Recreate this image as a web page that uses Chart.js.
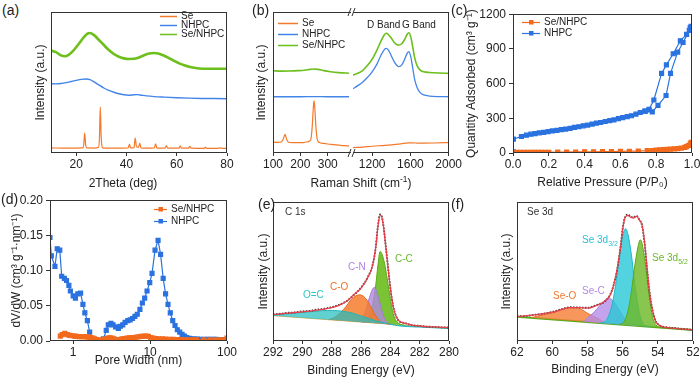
<!DOCTYPE html>
<html><head><meta charset="utf-8">
<script src="https://cdn.jsdelivr.net/npm/chart.js@4.4.1/dist/chart.umd.min.js"></script>
<style>
html,body{margin:0;padding:0;background:#fff;}
#stage{position:relative;width:700px;height:378px;overflow:hidden;background:#fff;font-family:"Liberation Sans",Arial,sans-serif;}
#stage canvas{position:absolute;}
.t{position:absolute;white-space:nowrap;line-height:1;color:#222;z-index:5;}
.pl{font-size:14px;}
.an{font-size:10px;}
.ti{font-size:12px;}
sub,sup{font-size:70%;line-height:0;}
</style></head><body>
<div id="stage">
  <div class="t pl" style="left:2px;top:3px">(a)</div>
  <div class="t pl" style="left:252px;top:3px">(b)</div>
  <div class="t pl" style="left:451px;top:3px">(c)</div>
  <div class="t pl" style="left:1px;top:192px">(d)</div>
  <div class="t pl" style="left:258px;top:197px">(e)</div>
  <div class="t pl" style="left:451px;top:197px">(f)</div>
  <div class="t ti" style="left:123px;top:177px;transform:translateX(-50%)">2Theta (deg)</div>
  <div class="t an" style="left:367px;top:20px">D Band</div>
  <div class="t an" style="left:402px;top:20px">G Band</div>
  <div class="t ti" style="left:361px;top:177px;transform:translateX(-50%)">Raman Shift (cm<sup>-1</sup>)</div>
  <div class="t an" style="left:285px;top:207px;color:#333">C 1s</div>
  <div class="t an" style="left:395px;top:254px;color:#6cb82a">C-C</div>
  <div class="t an" style="left:348px;top:262px;color:#b07fe0">C-N</div>
  <div class="t an" style="left:330px;top:282px;color:#f07020">C-O</div>
  <div class="t an" style="left:303px;top:290px;color:#2cc6c8">O=C</div>
  <div class="t an" style="left:527px;top:207px;color:#333">Se 3d</div>
  <div class="t an" style="left:582px;top:235px;color:#28c0d0">Se 3d<sub>3/2</sub></div>
  <div class="t an" style="left:652px;top:253px;color:#6cb82a">Se 3d<sub>5/2</sub></div>
  <div class="t an" style="left:582px;top:286px;color:#b48ae6">Se-C</div>
  <div class="t an" style="left:553px;top:291px;color:#f07a30">Se-O</div>
</div>
<script>
// ---------------- DATA ----------------
// (a) XRD
const aTicksX = [20, 40, 60, 80];
const xrdSe = [[10,3.6],[15,3.5],[20,3.5],[22.6,3.6],[23.0,5.5],[23.4,14.2],[23.8,5.5],[24.3,3.6],[27,3.5],[28.9,4],[29.3,12],[29.6,32.6],[29.95,12],[30.4,4],[31,3.5],[35,3.4],[40.7,3.6],[41.2,6.2],[41.7,3.6],[43.0,3.8],[43.5,10.6],[44.0,4.5],[44.8,4],[45.3,7],[45.8,3.6],[48,3.4],[51.1,3.6],[51.6,6.5],[52.1,3.5],[55.4,3.5],[55.9,5.3],[56.4,3.4],[60.9,3.4],[61.4,5],[61.9,3.4],[64.7,3.4],[65.2,4.7],[65.7,3.4],[68,3.3],[70.9,3.3],[71.4,4.1],[71.9,3.3],[76,3.3],[77.4,3.7],[77.9,3.3],[80,3.3]];
const xrdNHPC = [[10,49.2],[12,49.0],[14,49.3],[16,49.9],[18,50.7],[20,51.5],[22,52.2],[24,52.5],[25.5,52.0],[27,50.6],[29,48.3],[31,46.1],[33,44.4],[35,43.1],[37,42.0],[39,41.3],[41,41.0],[43,41.3],[44.5,41.4],[46,41.0],[48,40.5],[51,40.0],[55,39.6],[60,39.2],[65,38.9],[70,38.7],[75,38.6],[80,38.5]];
const xrdSeNHPC = [[10,72.8],[12,71.5],[14,69.2],[15.5,68.6],[17,69.6],[19,72.8],[21,77.3],[23,82.0],[24.5,84.6],[25.5,85.1],[27,83.8],[29,80.3],[31,76.6],[33,73.0],[35,70.2],[37,68.3],[39,67.1],[41,66.7],[43,66.8],[45,67.8],[47,69.3],[49,70.5],[51,70.9],[53,70.4],[55,69.0],[57,67.2],[59,65.3],[61,63.6],[63,62.2],[65,61.1],[67,60.4],[69,59.9],[72,59.7],[76,59.8],[80,59.8]];
// (b) Raman (split axis)
const bTicksL = [100, 200, 300];
const bTicksR = [1200, 1600, 2000];
const ramanSeL = [[100,7.8],[110,7.6],[120,7.5],[130,7.8],[137,9.5],[144,13.2],[150,9.5],[157,7.6],[170,7.3],[190,7.3],[210,7.4],[228,8],[238,9.5],[243,18],[247,31],[250,37.1],[253,31],[257,18],[262,9.5],[270,7.4],[285,6.8],[300,6.4],[320,6],[340,5.6],[360,5.2],[378,5.0]];
const ramanNHPCL = [[100,39.9],[150,39.9],[200,39.9],[250,40],[300,39.9],[350,39.9],[378,39.9]];
const ramanSeNHPCL = [[100,58.3],[130,58.1],[160,58.2],[190,58.4],[215,58.7],[235,59.3],[250,59.6],[265,59.3],[285,58.4],[310,57.6],[340,57.0],[378,56.6]];
const ramanSeR = [[1000,3.8],[1100,4.2],[1200,4.8],[1300,5.3],[1400,5.8],[1500,6.5],[1580,7.2],[1650,7.1],[1750,7],[1850,7.1],[2000,7.4]];
const ramanNHPCR = [[1000,45.6],[1050,47.8],[1100,50.2],[1150,53.5],[1200,57.5],[1250,63],[1290,69],[1320,72.6],[1345,74.2],[1370,73],[1400,69],[1430,64.8],[1460,62],[1480,61.2],[1510,62.5],[1540,66.5],[1565,70.5],[1585,71.9],[1605,68],[1625,60],[1645,52],[1670,46.5],[1700,43],[1740,41.2],[1800,40.4],[1900,40.0],[2000,39.9]];
const ramanSeNHPCR = [[1000,55.2],[1050,56.5],[1100,58.5],[1150,62],[1200,66.5],[1250,73],[1290,79],[1320,83],[1345,84.9],[1370,84],[1400,81.5],[1430,78.5],[1460,76.8],[1480,76.6],[1510,77.5],[1540,80.5],[1565,84],[1585,85.3],[1605,82],[1625,75],[1645,67.5],[1670,62],[1700,59],[1740,57.6],[1800,57.1],[1900,56.7],[2000,56.5]];
// (c) N2 isotherms
const cTicksX = [0, 0.2, 0.4, 0.6, 0.8, 1.0];
const cTicksY = [0, 300, 600, 900, 1200];
const betSeNHPC = [[0.002,3],[0.02,5],[0.04,5],[0.06,5],[0.08,5],[0.1,5],[0.12,5],[0.14,5.5],[0.16,5.5],[0.18,6],[0.2,6],[0.25,7],[0.3,8],[0.35,9],[0.4,10],[0.45,11],[0.5,12],[0.55,13],[0.6,14],[0.65,15.5],[0.7,17],[0.75,20],[0.78,22],[0.8,25],[0.82,27],[0.84,29],[0.86,31],[0.88,33],[0.9,35],[0.92,38],[0.94,42],[0.96,48],[0.97,55],[0.98,65],[0.99,80],[0.995,92]];
const betNHPC = [[0.001,10],[0.002,120],[0.047,143],[0.075,154],[0.1,163],[0.123,168],[0.147,174],[0.172,179],[0.196,185],[0.22,191],[0.245,196],[0.27,202],[0.294,207],[0.319,213],[0.343,221],[0.368,227],[0.392,235],[0.417,241],[0.442,250],[0.466,258],[0.49,264],[0.515,272],[0.54,280],[0.564,286],[0.589,297],[0.613,306],[0.638,314],[0.662,322],[0.687,336],[0.711,350],[0.736,362],[0.76,372],[0.778,355],[0.81,412],[0.855,497],[0.88,688],[0.92,872],[0.95,955],[0.985,1060],[0.995,1095],[0.99,1085],[0.97,1025],[0.935,970],[0.895,858],[0.857,762],[0.83,688],[0.787,458],[0.76,378],[0.74,362]];
// (d) pore size distribution
const dTicksX = [1, 10, 100];
const dTicksY = [0, 0.05, 0.10, 0.15, 0.20];
const psdSeNHPC = [[0.68,0.007],[0.72,0.009],[0.78,0.011],[0.84,0.009],[0.9,0.008],[0.97,0.0075],[1.05,0.007],[1.1,0.0065],[1.2,0.0062],[1.3,0.006],[1.4,0.006],[1.5,0.0058],[1.6,0.0055],[1.7,0.005],[1.8,0.004],[1.9,0.003],[2.0,0.002],[2.2,0.0015],[2.4,0.002],[2.6,0.003],[2.8,0.004],[3.0,0.0045],[3.2,0.004],[3.4,0.003],[3.6,0.002],[3.8,0.0015],[4.0,0.002],[4.3,0.003],[4.6,0.0035],[5.0,0.004],[5.4,0.0045],[5.8,0.0045],[6.2,0.005],[6.7,0.0055],[7.2,0.006],[7.7,0.0065],[8.3,0.007],[8.9,0.007],[9.5,0.0065],[10.2,0.005],[11,0.004],[12,0.0035],[13,0.003],[14.5,0.003],[16,0.0028],[18,0.0025],[20,0.0023],[23,0.002],[26,0.002],[30,0.0018],[35,0.0018],[40,0.0017],[50,0.0016],[60,0.0016],[70,0.0015],[80,0.0015],[90,0.0015],[100,0.004]];
const psdNHPC = [[0.5,0.147],[0.52,0.121],[0.58,0.106],[0.62,0.131],[0.67,0.129],[0.71,0.092],[0.77,0.089],[0.82,0.086],[0.88,0.079],[0.92,0.071],[1.0,0.064],[1.07,0.061],[1.15,0.067],[1.25,0.068],[1.34,0.052],[1.42,0.040],[1.53,0.029],[1.64,0.0126],[1.74,0.002],[1.9,0.0],[2.1,0.0],[2.3,0.0],[2.48,0.003],[2.69,0.015],[2.86,0.023],[3.1,0.025],[3.3,0.023],[3.57,0.020],[3.87,0.018],[4.11,0.021],[4.41,0.023],[4.73,0.0265],[5.13,0.029],[5.51,0.030],[5.91,0.032],[6.35,0.035],[6.81,0.038],[7.38,0.045],[7.93,0.054],[8.51,0.061],[9.13,0.071],[9.9,0.083],[10.6,0.096],[11.6,0.129],[12.7,0.143],[13.7,0.123],[14.8,0.089],[15.9,0.067],[17.1,0.052],[18.3,0.040],[19.7,0.029],[21.1,0.022],[22.6,0.016],[24.3,0.0126],[26.1,0.0093],[28,0.007],[30,0.005],[32.3,0.0037],[35,0.003],[38,0.0028],[41,0.0026],[45,0.0025],[50,0.0024],[55,0.0023],[60,0.0023],[66,0.0022],[72,0.0022],[79,0.0021],[86,0.0021],[93,0.002],[100,0.002]];
// (e) C 1s XPS
const eTicksX = [292, 290, 288, 286, 284, 282, 280];
const c1sBase = [[292,18.2],[280,9.0]];
const c1sRaw = [[292,19.2],[291.5,19.6],[291,20.3],[290.5,20.6],[290,21.3],[289.5,21.7],[289,22.6],[288.5,23.2],[288,24.4],[287.5,26.0],[287,28.6],[286.5,33.0],[286,38.3],[285.5,46.8],[285.2,55],[285,67],[284.85,82.5],[284.7,91],[284.6,90.2],[284.45,81.5],[284.3,67],[284.15,52.5],[284,38.4],[283.8,24.6],[283.6,17.8],[283.4,14.2],[283,12.9],[282.5,11.3],[282,10.9],[281.5,10.3],[281,10.2],[280.5,9.8],[280,9.7]];
const c1sFit = [[292,19],[291,20],[290,21],[289,22.2],[288,24],[287.5,25.7],[287,28.4],[286.5,33.2],[286,38],[285.5,46.4],[285.2,54.8],[285,66.8],[284.85,82],[284.7,90.4],[284.6,89.7],[284.45,81],[284.3,67],[284.15,52],[284,38],[283.8,24.8],[283.6,17.5],[283.4,14.4],[283,12.7],[282.5,11.5],[282,10.8],[281,10.1],[280,9.6]];
const c1sCC = [[285.9,13.5],[285.6,15],[285.4,19],[285.2,27],[285,39.5],[284.85,54],[284.7,64.4],[284.55,62],[284.4,56],[284.25,47],[284.1,37],[283.95,27],[283.8,19.5],[283.6,14.5],[283.3,12],[283,11.3]];
const c1sCN = [[286.4,13.9],[286.1,15],[285.8,19],[285.6,25],[285.4,32],[285.25,36.5],[285.1,38.5],[284.95,36.5],[284.8,31],[284.65,25],[284.5,19],[284.3,14.5],[284.1,12.5],[283.8,11.9]];
const c1sCO = [[288.2,15.3],[287.8,17],[287.4,20.5],[287,25],[286.7,29.5],[286.4,32.2],[286.1,33.2],[285.85,32.3],[285.6,29.5],[285.35,25],[285.1,20],[284.85,16],[284.6,13.5],[284.3,12.4],[284,12.1]];
const c1sOC = [[292,18.6],[291,19.6],[290,20.6],[289,21.5],[288.3,22],[287.6,21.8],[287,21],[286.5,19.8],[286,18],[285.5,16.3],[285,14.6],[284.5,13.2],[284,12],[283.5,11],[283,10.5],[282.5,10.2],[282,10],[281,9.5],[280,9.1]];
// (f) Se 3d XPS
const fTicksX = [62, 60, 58, 56, 54, 52];
const se3dBase = [[62,17.5],[52,7.9]];
const se3dRaw = [[62,17.8],[61.5,18.0],[61,18.9],[60.5,19.6],[60,20.9],[59.5,22.8],[59,24.3],[58.5,24.1],[58,23.9],[57.5,25.8],[57,28.6],[56.7,33.5],[56.5,40.8],[56.3,52],[56.1,69.5],[56,80.5],[55.85,89.5],[55.7,91],[55.55,89.5],[55.4,89],[55.2,90],[55.05,87.3],[54.9,83.5],[54.75,70],[54.6,50.5],[54.45,33.4],[54.3,22.2],[54.15,15.3],[54,12.2],[53.5,9.9],[53,9.3],[52.5,8.6],[52,8.1]];
const se3dFit = [[62,17.5],[61,18.75],[60,20.7],[59.5,22.4],[59,24],[58.5,24],[58,23.6],[57.5,25.5],[57,28.8],[56.7,33.2],[56.5,40.4],[56.3,52.4],[56.1,69.2],[56,80],[55.85,89],[55.7,90.4],[55.55,89],[55.4,88.5],[55.2,89.7],[55.05,87],[54.9,83.5],[54.75,71],[54.6,51],[54.45,33],[54.3,22],[54.15,15],[54,12],[53.5,9.6],[53,9.1],[52,7.9]];
const se3d32 = [[57.3,12.9],[57,14],[56.8,18],[56.6,26],[56.4,40],[56.2,59.6],[56,75.2],[55.82,80.8],[55.69,76.4],[55.5,62],[55.3,40.4],[55.1,23.6],[54.9,14],[54.7,11],[54.4,10.2]];
const se3d52 = [[56.2,11.9],[56,12.7],[55.7,21.2],[55.5,35.6],[55.3,54.8],[55.1,69.2],[55,72.8],[54.9,70.4],[54.7,54.8],[54.5,33.2],[54.3,17.5],[54.1,11.5],[53.8,9.6],[53.5,9.3]];
const se3dSeC = [[58.2,14],[58,16.5],[57.6,21],[57.3,25.5],[57,29.3],[56.8,30.8],[56.5,28.4],[56.2,22.4],[55.9,16.3],[55.6,12.7],[55.2,11]];
const se3dSeO = [[61.2,16.7],[60.8,18],[60.4,19.2],[60,20],[59.5,22.4],[59,24],[58.7,24],[58.3,22.4],[58,20],[57.6,17.5],[57.3,15.5],[57,13.2]];

// ---------------- HELPERS ----------------
const FONT = '"Liberation Sans", Arial, Helvetica, sans-serif';
Chart.defaults.font.family = FONT;
const stage = document.getElementById('stage');
const P = a => a.map(p => ({x: p[0], y: p[1]}));

function line(label, arr, color, w, extra) {
  return Object.assign({label, data: P(arr), borderColor: color, backgroundColor: color,
    borderWidth: w, pointRadius: 0, cubicInterpolationMode: 'monotone', fill: false}, extra || {});
}
function marked(label, arr, color) {
  return {label, data: P(arr), borderColor: color, backgroundColor: color, pointBackgroundColor: color,
    pointBorderColor: color, borderWidth: 1.2, pointStyle: 'rect', pointRadius: 2.8, fill: false, tension: 0};
}
function xAxis(min, max, ticks, H, title, o) {
  o = o || {};
  return {type: o.type || 'linear', min, max, reverse: !!o.reverse,
    grid: {display: true, drawOnChartArea: false, drawTicks: true, tickLength: 3, color: '#333', lineWidth: 1},
    border: {display: false},
    ticks: {font: {family: FONT, size: 12}, color: '#222', padding: 1, maxRotation: 0, minRotation: 0,
      autoSkip: false, callback: o.fmt || (v => String(v))},
    title: {display: !!title, text: title || '', font: {family: FONT, size: 12}, color: '#222', padding: 0},
    afterBuildTicks: s => { s.ticks = ticks.map(v => ({value: v})); },
    afterFit: s => { s.height = H; }};
}
function yAxis(min, max, ticks, W, title, o) {
  o = o || {};
  const has = !!ticks;
  const ax = {type: 'linear', min, max, display: W > 0,
    grid: {display: has, drawOnChartArea: false, drawTicks: true, tickLength: 4, color: '#333', lineWidth: 1},
    border: {display: false},
    ticks: {display: has, font: {family: FONT, size: 12}, color: '#222', padding: 3, callback: o.fmt || (v => String(v))},
    title: {display: !!title, text: title || '', font: {family: FONT, size: 12}, color: '#222', padding: 0},
    afterFit: s => { s.width = W; }};
  if (has) ax.afterBuildTicks = s => { s.ticks = ticks.map(v => ({value: v})); };
  return ax;
}
function framePlugin(sides) {
  return {id: 'frame', afterDatasetsDraw(ch) {
    const {ctx, chartArea: a} = ch;
    const L = Math.round(a.left) + 0.5, R = Math.round(a.right) - 0.5, T = Math.round(a.top) + 0.5, B = Math.round(a.bottom) - 0.5;
    ctx.save(); ctx.strokeStyle = '#333'; ctx.lineWidth = 1; ctx.beginPath();
    if (sides.includes('t')) { ctx.moveTo(L - 0.5, T); ctx.lineTo(R + 0.5, T); }
    if (sides.includes('b')) { ctx.moveTo(L - 0.5, B); ctx.lineTo(R + 0.5, B); }
    if (sides.includes('l')) { ctx.moveTo(L, T); ctx.lineTo(L, B); }
    if (sides.includes('r')) { ctx.moveTo(R, T); ctx.lineTo(R, B); }
    ctx.stroke(); ctx.restore();
  }};
}
function legendPlugin(cfg) {
  return {id: 'inLegend', afterDatasetsDraw(ch) {
    const {ctx, chartArea: a} = ch;
    ctx.save(); ctx.font = '10px ' + FONT; ctx.textBaseline = 'middle'; ctx.textAlign = 'left';
    cfg.items.forEach((idx, k) => {
      const ds = ch.data.datasets[idx];
      const y = Math.round(a.top + cfg.y + k * cfg.dy) + 0.5, x0 = a.left + cfg.x;
      ctx.strokeStyle = ds.borderColor; ctx.lineWidth = cfg.lw || 1.5;
      ctx.beginPath(); ctx.moveTo(x0, y); ctx.lineTo(x0 + cfg.len, y); ctx.stroke();
      if (cfg.marker) { ctx.fillStyle = ds.borderColor; ctx.fillRect(x0 + cfg.len / 2 - 2, y - 2.5, 4.5, 4.5); }
      ctx.fillStyle = '#222'; ctx.fillText(ds.label, x0 + cfg.len + 4, y);
    });
    ctx.restore();
  }};
}
const breakPlugin = {id: 'brk', afterDraw(ch) {
  const {ctx, chartArea: a} = ch;
  ctx.save(); ctx.strokeStyle = '#333'; ctx.lineWidth = 1;
  [a.top, a.bottom].forEach(y => {
    ctx.beginPath();
    ctx.moveTo(a.right - 3, y + 4); ctx.lineTo(a.right, y - 4);
    ctx.moveTo(a.right + 1, y + 4); ctx.lineTo(a.right + 4, y - 4);
    ctx.stroke();
  });
  ctx.restore();
}};
function mkChart(plot, W, H, scales, datasets, plugins) {
  const padT = 8, padR = 14, padB = 2;
  const left = plot.l - W, top = plot.t - padT;
  const w = W + (plot.r - plot.l) + padR, h = padT + (plot.b - plot.t) + H + padB;
  const c = document.createElement('canvas');
  c.width = w; c.height = h;
  c.style.cssText = `left:${left}px;top:${top}px;width:${w}px;height:${h}px`;
  stage.appendChild(c);
  return new Chart(c, {
    type: 'line',
    data: {datasets},
    options: {
      responsive: false, animation: false, devicePixelRatio: 1, events: [],
      layout: {padding: {top: padT, right: padR, bottom: padB, left: 0}},
      plugins: {legend: {display: false}, tooltip: {enabled: false}},
      scales
    },
    plugins: plugins
  });
}

// ---------------- COLOURS ----------------
const OR = '#f5792a', BL = '#4285e8', GR = '#6cbf1c';
const OR2 = '#f36a1c', BL2 = '#2a72e0';

// (a)
mkChart({l: 51, t: 12, r: 227, b: 153}, 18, 37,
  {x: xAxis(10, 80, aTicksX, 37, ''), y: yAxis(0, 100, null, 18, 'Intensity (a.u.)')},
  [line('Se', xrdSe, OR, 1.2), line('NHPC', xrdNHPC, BL, 1.4), line('Se/NHPC', xrdSeNHPC, GR, 2.6)],
  [framePlugin('tblr'), legendPlugin({items: [0, 1, 2], x: 109, y: 4, dy: 9, len: 17})]);

// (b) left segment
mkChart({l: 273, t: 12, r: 351, b: 153}, 19, 37,
  {x: xAxis(100, 385, bTicksL, 37, ''), y: yAxis(0, 100, null, 19, 'Intensity (a.u.)')},
  [line('Se', ramanSeL, OR, 1.2), line('NHPC', ramanNHPCL, BL, 1.3), line('Se/NHPC', ramanSeNHPCL, GR, 1.6)],
  [framePlugin('tbl'), legendPlugin({items: [0, 1, 2], x: 5, y: 11, dy: 11.2, len: 20}), breakPlugin]);
// (b) right segment
mkChart({l: 353, t: 12, r: 449, b: 153}, 0, 37,
  {x: xAxis(1000, 2000, bTicksR, 37, ''), y: yAxis(0, 100, null, 0, '')},
  [line('Se', ramanSeR, OR, 1.2), line('NHPC', ramanNHPCR, BL, 1.3), line('Se/NHPC', ramanSeNHPCR, GR, 1.6)],
  [framePlugin('tbr')]);

// (c)
mkChart({l: 513, t: 12, r: 692, b: 153}, 49, 37,
  {x: xAxis(0, 1, cTicksX, 37, 'Relative Pressure (P/P\u2080)', {fmt: v => v.toFixed(1)}),
   y: yAxis(0, 1200, cTicksY, 49, 'Quantity Adsorbed (cm\u00b3 g\u207b\u00b9)')},
  [marked('Se/NHPC', betSeNHPC, OR2), marked('NHPC', betNHPC, BL2)],
  [framePlugin('tblr'), legendPlugin({items: [0, 1], x: 9, y: 7.5, dy: 11.7, len: 18, marker: true, lw: 1.2})]);

// (d)
mkChart({l: 50, t: 198, r: 227, b: 341}, 41, 27,
  {x: xAxis(0.5, 100, dTicksX, 27, 'Pore Width (nm)', {type: 'logarithmic'}),
   y: yAxis(0, 0.2, dTicksY, 41, 'dV/dW (cm\u00b3 g\u207b\u00b9\u00b7nm\u207b\u00b9)', {fmt: v => v.toFixed(2)})},
  [marked('Se/NHPC', psdSeNHPC, OR2), marked('NHPC', psdNHPC, BL2)],
  [framePlugin('tblr'), legendPlugin({items: [0, 1], x: 104, y: 9, dy: 11.7, len: 13, marker: true, lw: 1.2})]);

// (e)
mkChart({l: 273, t: 202, r: 449, b: 341}, 17, 37,
  {x: xAxis(280, 292, eTicksX, 37, 'Binding Energy (eV)', {reverse: true}), y: yAxis(0, 100, null, 17, 'Intensity (a.u.)')},
  [
    line('Background', c1sBase, '#e8b060', 1, {order: 6, cubicInterpolationMode: 'default', tension: 0}),
    line('O=C', c1sOC, '#1fb5b8', 1, {order: 2, fill: 0, backgroundColor: 'rgba(35,190,190,0.72)'}),
    line('C-O', c1sCO, '#e86a20', 1, {order: 3, fill: 0, backgroundColor: 'rgba(245,125,45,0.85)'}),
    line('C-N', c1sCN, '#a078d8', 1, {order: 4, fill: 0, backgroundColor: 'rgba(178,135,225,0.8)'}),
    line('C-C', c1sCC, '#5aa816', 1, {order: 5, fill: 0, backgroundColor: 'rgba(108,190,30,0.9)'}),
    line('Raw', c1sRaw, '#3a3a3a', 1.8, {order: 1, borderDash: [1.5, 1.5]}),
    line('Fit', c1sFit, '#e8404a', 1.3, {order: 0})
  ],
  [framePlugin('tblr')]);

// (f)
mkChart({l: 517, t: 202, r: 693, b: 341}, 18, 36,
  {x: xAxis(52, 62, fTicksX, 36, 'Binding Energy (eV)', {reverse: true}), y: yAxis(0, 100, null, 18, 'Intensity (a.u.)')},
  [
    line('Background', se3dBase, '#5aa816', 2, {order: 6, cubicInterpolationMode: 'default', tension: 0}),
    line('Se-O', se3dSeO, '#ee7030', 1, {order: 5, fill: 0, backgroundColor: 'rgba(245,125,50,0.8)'}),
    line('Se-C', se3dSeC, '#a880e0', 1, {order: 4, fill: 0, backgroundColor: 'rgba(180,140,230,0.8)'}),
    line('Se 3d3/2', se3d32, '#20b8c8', 1, {order: 3, fill: 0, backgroundColor: 'rgba(40,200,215,0.8)'}),
    line('Se 3d5/2', se3d52, '#5aa816', 1, {order: 2, fill: 0, backgroundColor: 'rgba(110,185,40,0.82)'}),
    line('Raw', se3dRaw, '#3a3a3a', 1.8, {order: 1, borderDash: [1.5, 1.5]}),
    line('Fit', se3dFit, '#e8404a', 1.3, {order: 0})
  ],
  [framePlugin('tblr')]);
</script>
</body></html>
